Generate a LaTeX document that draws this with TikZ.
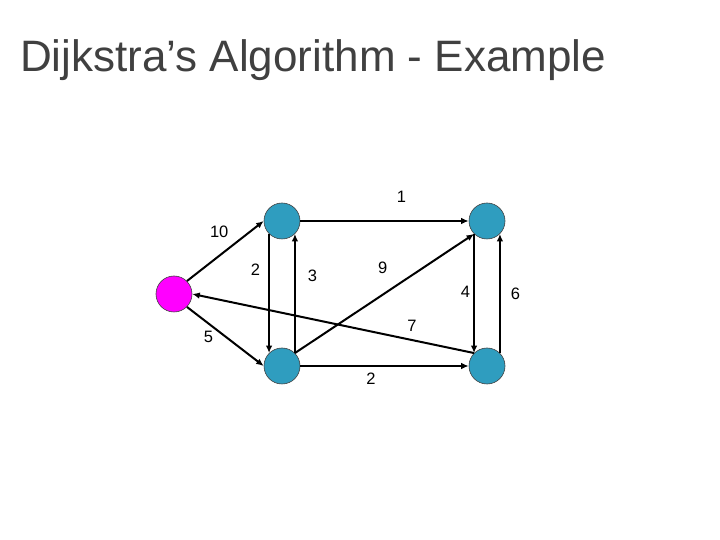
\documentclass[tikz,border=0pt]{standalone}
\usepackage{fontspec}
\setmainfont{Liberation Sans}
\usepackage{tikz}
\usetikzlibrary{positioning}
\usetikzlibrary{arrows.meta}
\definecolor{vertblue}{RGB}{47,157,191}
\definecolor{srcpink}{RGB}{255,0,255}
\definecolor{titlegray}{RGB}{64,64,64}

\begin{document}
\begin{tikzpicture}[on grid,
  vert/.style={circle,draw=black!75,line width=0.6pt,fill=vertblue,minimum size=36pt,inner sep=0pt},
  src/.style={vert,fill=srcpink},
  arc/.style={line width=2pt,-{Latex[length=7.5pt,width=6.5pt]}},
  wt/.style={font=\fontsize{16.5}{19}\selectfont,inner sep=2pt}]
\useasboundingbox (-174pt,294pt) rectangle (546pt,-246pt);
\node[anchor=base west,font=\fontsize{44}{52}\selectfont,text=titlegray] (title) at (-157.5pt,222pt) {Dijkstra’s Algorithm - Example};
%%%%%%%%%%%%%%%%%%%%%%%%%%%%%%%%%%%%%
\node[src] (s) {};
\node[vert,above right=73pt and 108pt of s] (u) {};
\node[vert,below=145pt of u] (x) {};
\node[vert,right=205pt of u] (v) {};
\node[vert,right=205pt of x] (y) {};
%%%%%%%%%%%%%%%%%%%%%%%%%%%%%%%%%%%%%
\draw[arc] (s.north east) -- node[wt,pos=.42,above=15pt] (wsu) {10} (u.west);
\draw[arc] (s.south east) -- node[wt,pos=.28,below=5pt] (wsx) {5} (x.west);
\draw[arc] (u.south west) -- node[wt,pos=.3,left=6pt] (wux) {2} (x.north west);
\draw[arc] (x.north east) -- node[wt,pos=.65,right=10pt] (wxu) {3} (u.south east);
\draw[arc] (u.east) -- node[wt,pos=.6,above=15pt] (wuv) {1} (v.west);
\draw[arc] (x.north east) -- node[wt,pos=.49,above=18pt] (wxv) {9} (v.south west);
\draw[arc] (x.east) -- node[wt,pos=.42,below=4pt] (wxy) {2} (y.west);
\draw[arc] (y.north west) -- node[wt,pos=.22,above=6pt] (wys) {7} (s.east);
\draw[arc] (v.south west) -- node[wt,pos=.49,left=1pt] (wvy) {4} (y.north west);
\draw[arc] (y.north east) -- node[wt,pos=.5,right=8pt] (wyv) {6} (v.south east);
\end{tikzpicture}
\end{document}
